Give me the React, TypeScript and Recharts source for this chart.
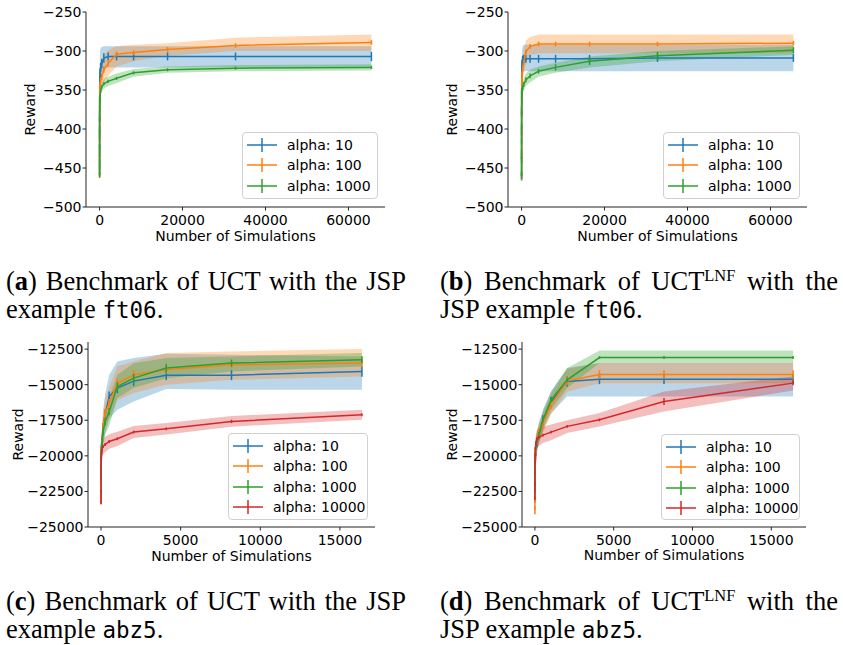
import React from "react";
import { ComposedChart, Area, Line, ErrorBar, XAxis, YAxis, Label } from "recharts";

// x positions: powers of two
const xFt06 = [1, 2, 4, 8, 16, 32, 64, 128, 256, 512, 1024, 2048, 4096, 8192, 16384, 32768, 65536];
const xAbz5 = [1, 2, 4, 8, 16, 32, 64, 128, 256, 512, 1024, 2048, 4096, 8192, 16384];

const legendLabels = ["alpha: 10", "alpha: 100", "alpha: 1000", "alpha: 10000"];
const seriesColors = ["#1f77b4", "#ff7f0e", "#2ca02c", "#d62728"];

const ftTicksX = [0, 20000, 40000, 60000];
const ftTicksY = [-500, -450, -400, -350, -300, -250];
const abzTicksX = [0, 5000, 10000, 15000];
const abzTicksY = [-25000, -22500, -20000, -17500, -15000, -12500];

// (a) UCT, ft06
const uctFtMean10 = [-452, -428, -404, -384, -366, -350, -338, -328, -321, -316, -309, -307, -307, -307, -307, -307, -307];
const uctFtErr10 = [8, 8, 8, 7, 7, 7, 6, 6, 6, 6, 6, 5, 5, 5, 5, 5, 6];
const uctFtLo10 = [-468, -448, -428, -410, -395, -380, -366, -352, -340, -330, -322, -321, -321, -321, -321, -321, -321];
const uctFtHi10 = [-436, -408, -380, -358, -337, -320, -308, -300, -296, -295, -294, -294, -294, -294, -294, -294, -294];
const uctFtMean100 = [-458, -436, -412, -392, -375, -362, -352, -344, -338, -333, -324, -316, -304, -302, -298, -293, -289];
const uctFtErr100 = [5, 5, 5, 5, 4, 4, 4, 4, 4, 4, 4, 4, 3, 3, 3, 3, 3];
const uctFtLo100 = [-470, -450, -428, -410, -394, -380, -370, -362, -355, -348, -340, -332, -320, -313, -306, -300, -300];
const uctFtHi100 = [-446, -422, -396, -374, -356, -344, -334, -326, -321, -318, -307, -299, -294, -292, -290, -283, -279];
const uctFtMean1000 = [-459, -442, -422, -403, -387, -374, -364, -357, -351, -346, -342, -339, -335, -328, -324, -322, -321];
const uctFtErr1000 = [3, 3, 3, 3, 3, 3, 3, 3, 2, 2, 2, 2, 2, 2, 2, 2, 2];
const uctFtLo1000 = [-466, -449, -429, -410, -394, -381, -371, -363, -357, -352, -348, -345, -341, -333, -328, -326, -325];
const uctFtHi1000 = [-452, -435, -415, -396, -380, -367, -357, -351, -345, -340, -336, -333, -329, -323, -320, -318, -317];

// (b) UCT-LNF, ft06
const lnfFtMean10 = [-460, -432, -402, -376, -355, -338, -325, -316, -311, -310, -310, -310, -310, -310, -310, -309, -309];
const lnfFtErr10 = [6, 6, 6, 6, 6, 6, 5, 5, 5, 5, 5, 5, 5, 5, 5, 5, 5];
const lnfFtLo10 = [-476, -452, -424, -398, -376, -358, -344, -334, -328, -326, -326, -326, -326, -326, -326, -326, -326];
const lnfFtHi10 = [-444, -412, -380, -354, -334, -318, -306, -298, -294, -292, -292, -292, -292, -292, -292, -292, -292];
const lnfFtMean100 = [-461, -434, -406, -382, -363, -349, -339, -331, -323, -315, -301, -294, -291, -291, -291, -291, -290];
const lnfFtErr100 = [4, 4, 4, 4, 4, 4, 4, 4, 3, 3, 3, 3, 3, 3, 3, 3, 3];
const lnfFtLo100 = [-473, -448, -420, -397, -378, -364, -354, -346, -338, -330, -315, -305, -303, -303, -303, -303, -303];
const lnfFtHi100 = [-449, -420, -392, -367, -348, -334, -324, -316, -308, -300, -287, -282, -279, -279, -279, -279, -279];
const lnfFtMean1000 = [-460, -440, -416, -396, -379, -366, -357, -351, -347, -343, -337, -332, -326, -321, -313, -306, -299];
const lnfFtErr1000 = [4, 4, 4, 4, 4, 4, 4, 4, 3, 3, 3, 3, 3, 4, 5, 5, 4];
const lnfFtLo1000 = [-468, -448, -424, -404, -387, -374, -365, -359, -355, -351, -345, -340, -333, -328, -321, -313, -305];
const lnfFtHi1000 = [-452, -432, -408, -388, -371, -358, -349, -343, -339, -335, -329, -324, -320, -315, -307, -300, -294];

// (c) UCT, abz5
const uctAbzMean10 = [-23000, -22000, -21000, -20300, -19900, -19400, -18900, -18050, -17100, -15830, -15240, -14750, -14330, -14330, -14070];
const uctAbzErr10 = [300, 300, 300, 300, 300, 300, 300, 350, 350, 350, 350, 350, 350, 350, 370];
const uctAbzLo10 = [-23600, -22700, -21800, -21100, -20700, -20300, -19900, -19300, -18500, -17400, -16760, -16180, -15300, -15350, -15360];
const uctAbzHi10 = [-22400, -21300, -20200, -19500, -19100, -18500, -17900, -16800, -15700, -14300, -13370, -13130, -12830, -12900, -13020];
const uctAbzMean100 = [-23100, -22200, -21300, -20500, -20000, -19500, -18900, -18000, -17000, -16300, -14900, -14300, -13950, -13600, -13480];
const uctAbzErr100 = [300, 300, 300, 300, 300, 300, 300, 300, 300, 300, 350, 350, 250, 250, 300];
const uctAbzLo100 = [-23700, -22900, -22100, -21300, -20800, -20300, -19800, -19000, -18000, -17400, -16100, -15590, -15000, -14660, -14420];
const uctAbzHi100 = [-22500, -21500, -20500, -19700, -19200, -18700, -18000, -17000, -16000, -15200, -13700, -13370, -12780, -12670, -12500];
const uctAbzMean1000 = [-21500, -21000, -20600, -20200, -19800, -19400, -19000, -18300, -17600, -16880, -15130, -14540, -13830, -13480, -13250];
const uctAbzErr1000 = [250, 250, 250, 250, 250, 250, 250, 250, 250, 250, 300, 300, 300, 250, 250];
const uctAbzLo1000 = [-22200, -21700, -21300, -20900, -20500, -20100, -19700, -19100, -18500, -17900, -15940, -15240, -14540, -14070, -13720];
const uctAbzHi1000 = [-20800, -20300, -19900, -19500, -19100, -18700, -18300, -17500, -16700, -15900, -14300, -13500, -13130, -13015, -12780];
const uctAbzMean10000 = [-23300, -22500, -21500, -20800, -20200, -19800, -19500, -19350, -19200, -18990, -18800, -18330, -18100, -17580, -17110];
const uctAbzErr10000 = [100, 100, 100, 100, 100, 100, 100, 100, 100, 100, 100, 100, 100, 120, 100];
const uctAbzLo10000 = [-24000, -23200, -22200, -21500, -20900, -20400, -20100, -19900, -19750, -19500, -19300, -18750, -18500, -17950, -17460];
const uctAbzHi10000 = [-22600, -21800, -20800, -20100, -19500, -19200, -18900, -18800, -18650, -18480, -18300, -17900, -17700, -17200, -16760];

// (d) UCT-LNF, abz5
const lnfAbzMean10 = [-23000, -22300, -21600, -21000, -20500, -20100, -19700, -19100, -18400, -17500, -16200, -14780, -14610, -14610, -14610];
const lnfAbzErr10 = [300, 300, 300, 300, 300, 300, 300, 300, 300, 350, 350, 350, 350, 350, 350];
const lnfAbzLo10 = [-23600, -23000, -22300, -21700, -21200, -20800, -20400, -19800, -19100, -18200, -17000, -15830, -15830, -15830, -15830];
const lnfAbzHi10 = [-22400, -21600, -20900, -20300, -19800, -19400, -19000, -18400, -17700, -16800, -15480, -13830, -13480, -13480, -13480];
const lnfAbzMean100 = [-23800, -22800, -21900, -21200, -20600, -20100, -19500, -18900, -18300, -17700, -16410, -14730, -14280, -14280, -14280];
const lnfAbzErr100 = [300, 300, 300, 300, 300, 300, 300, 300, 300, 300, 300, 300, 300, 300, 300];
const lnfAbzLo100 = [-24400, -23500, -22600, -21900, -21300, -20800, -20200, -19600, -19000, -18400, -17100, -15500, -14890, -14890, -14890];
const lnfAbzHi100 = [-23200, -22100, -21200, -20500, -19900, -19400, -18800, -18200, -17600, -17000, -15700, -13900, -13480, -13480, -13480];
const lnfAbzMean1000 = [-22500, -21800, -21000, -20400, -19900, -19500, -19300, -19000, -18500, -17470, -16060, -14660, -13090, -13090, -13090];
const lnfAbzErr1000 = [150, 150, 150, 150, 150, 150, 150, 150, 150, 150, 150, 150, 100, 100, 100];
const lnfAbzLo1000 = [-23100, -22400, -21600, -21000, -20500, -20100, -19900, -19600, -19100, -18100, -16760, -15240, -13480, -13480, -13480];
const lnfAbzHi1000 = [-21900, -21200, -20400, -19800, -19300, -18900, -18700, -18400, -17900, -16800, -15480, -13830, -12600, -12600, -12600];
const lnfAbzMean10000 = [-23000, -22000, -21200, -20500, -20000, -19500, -19100, -18800, -18700, -18540, -18330, -17930, -17470, -16180, -14890];
const lnfAbzErr10000 = [100, 100, 100, 100, 100, 100, 100, 100, 100, 100, 100, 100, 100, 250, 150];
const lnfAbzLo10000 = [-23600, -22600, -21800, -21100, -20600, -20100, -19700, -19400, -19300, -19100, -18900, -18400, -17930, -16880, -15400];
const lnfAbzHi10000 = [-22400, -21400, -20600, -19900, -19400, -18900, -18500, -18200, -18100, -17980, -17800, -17500, -16990, -15480, -14420];

const FONT = "'DejaVu Sans', sans-serif";
const SERIF = "'Liberation Serif', 'Times New Roman', serif";
const MONO = "'DejaVu Sans Mono', monospace";

type Series = { mean: number[]; err: number[]; lo: number[]; hi: number[] };

function buildRows(x: number[], series: Series[]) {
    return x.map((xv, i) => {
        const row: Record<string, number> = { x: xv };
        series.forEach((s, k) => {
            row[`m${k}`] = s.mean[i];
            row[`e${k}`] = s.err[i];
            row[`lo${k}`] = s.lo[i];
            row[`hi${k}`] = s.hi[i];
        });
        return row;
    });
}

const minus = (v: number) => String(v).replace("-", "\u2212");

interface PanelProps {
    left: number;
    top: number;
    width: number;
    height: number;
    yAxisWidth: number;
    marginRight: number;
    rows: Record<string, number>[];
    count: number;
    xDomain: [number, number];
    xTicks: number[];
    yDomain: [number, number];
    yTicks: number[];
    yLabelX: number;
    xLabelY: number;
    legend: { left: number; top: number; width: number; height: number };
}

const Panel: React.FC<PanelProps> = (p) => {
    const plotTop = 12;
    const plotBottom = p.height - 43;
    const plotLeft = p.yAxisWidth;
    const plotRight = p.width - p.marginRight;
    const idx = Array.from({ length: p.count }, (_, k) => k);

    return (
        <div style={{ position: "absolute", left: p.left, top: p.top, width: p.width, height: p.height }}>
            <ComposedChart
                width={p.width}
                height={p.height}
                data={p.rows}
                margin={{ top: plotTop, right: p.marginRight, bottom: 0, left: 0 }}
            >
                <XAxis
                    dataKey="x"
                    type="number"
                    domain={p.xDomain}
                    ticks={p.xTicks}
                    allowDataOverflow
                    height={43}
                    tickSize={3.5}
                    tickMargin={5}
                    stroke="#222"
                    tick={{ fill: "#000", fontSize: 14, fontFamily: FONT }}
                    tickFormatter={minus}
                >
                    <Label
                        content={() => (
                            <text
                                x={(plotLeft + plotRight) / 2}
                                y={p.xLabelY}
                                textAnchor="middle"
                                dominantBaseline="central"
                                fontSize={14}
                                fontFamily={FONT}
                                fill="#000"
                            >
                                Number of Simulations
                            </text>
                        )}
                    />
                </XAxis>
                <XAxis
                    xAxisId="top"
                    orientation="top"
                    type="number"
                    domain={p.xDomain}
                    allowDataOverflow
                    height={0}
                    tick={false}
                    tickLine={false}
                    stroke="#222"
                />
                <YAxis
                    type="number"
                    domain={p.yDomain}
                    ticks={p.yTicks}
                    allowDataOverflow
                    width={p.yAxisWidth}
                    tickSize={3.5}
                    tickMargin={1}
                    stroke="#222"
                    tick={{ fill: "#000", fontSize: 14, fontFamily: FONT }}
                    tickFormatter={minus}
                >
                    <Label
                        content={() => (
                            <text
                                x={p.yLabelX}
                                y={(plotTop + plotBottom) / 2}
                                transform={`rotate(-90 ${p.yLabelX} ${(plotTop + plotBottom) / 2})`}
                                textAnchor="middle"
                                dominantBaseline="central"
                                fontSize={14}
                                fontFamily={FONT}
                                fill="#000"
                            >
                                Reward
                            </text>
                        )}
                    />
                </YAxis>
                <YAxis
                    yAxisId="right"
                    orientation="right"
                    type="number"
                    domain={p.yDomain}
                    allowDataOverflow
                    width={0}
                    tick={false}
                    tickLine={false}
                    stroke="#222"
                />

                {idx.map((k) => (
                    <Area
                        key={`band${k}`}
                        type="linear"
                        dataKey={(d: Record<string, number>) => [d[`lo${k}`], d[`hi${k}`]]}
                        stroke="none"
                        fill={seriesColors[k]}
                        fillOpacity={0.3}
                        isAnimationActive={false}
                    />
                ))}
                {idx.map((k) => (
                    <Line
                        key={`line${k}`}
                        type="linear"
                        dataKey={`m${k}`}
                        stroke={seriesColors[k]}
                        strokeWidth={1.5}
                        dot={false}
                        isAnimationActive={false}
                    >
                        <ErrorBar dataKey={`e${k}`} width={0} stroke={seriesColors[k]} strokeWidth={1.5} direction="y" />
                    </Line>
                ))}
            </ComposedChart>

            {/* legend box, matplotlib style */}
            <div
                style={{
                    position: "absolute",
                    left: p.legend.left,
                    top: p.legend.top,
                    width: p.legend.width,
                    height: p.legend.height,
                    border: "1px solid #d0d0d0",
                    borderRadius: 4,
                    background: "rgba(255,255,255,0.8)",
                    boxSizing: "border-box",
                    fontFamily: FONT,
                    fontSize: 14,
                }}
            >
                {idx.map((k) => (
                    <div
                        key={k}
                        style={{
                            position: "absolute",
                            left: 0,
                            top: 11.5 + k * 20.5 - 10,
                            height: 20,
                            display: "flex",
                            alignItems: "center",
                            whiteSpace: "nowrap",
                        }}
                    >
                        <svg width={44} height={20} style={{ display: "block" }}>
                            <line x1={4} y1={10} x2={34} y2={10} stroke={seriesColors[k]} strokeWidth={1.5} />
                            <line x1={19} y1={3} x2={19} y2={17} stroke={seriesColors[k]} strokeWidth={1.5} />
                        </svg>
                        <span style={{ color: "#000" }}>{legendLabels[k]}</span>
                    </div>
                ))}
            </div>
        </div>
    );
};

const Caption: React.FC<{ left: number; top: number; width: number; letter: string; lnf: boolean; example: string }> = ({
    left,
    top,
    width,
    letter,
    lnf,
    example,
}) => {
    const lineStyle: React.CSSProperties = {
        height: 28,
        lineHeight: "28px",
        whiteSpace: "nowrap",
    };
    return (
        <div style={{ position: "absolute", left, top, width, fontFamily: SERIF, fontSize: 26.5, color: "#000" }}>
            <div style={{ ...lineStyle, textAlign: "justify", textAlignLast: "justify", whiteSpace: "normal" }}>
                (<b>{letter}</b>) Benchmark of UCT
                {lnf && <sup style={{ fontSize: "0.62em", lineHeight: 0, verticalAlign: "0.52em" }}>LNF</sup>} with the
                {lnf ? "" : " JSP"}
            </div>
            <div style={lineStyle}>
                {lnf ? "JSP example " : "example "}
                <span style={{ fontFamily: MONO, fontSize: "0.85em" }}>{example}</span>.
            </div>
        </div>
    );
};

export default function App() {
    const rowsA = buildRows(xFt06, [
        { mean: uctFtMean10, err: uctFtErr10, lo: uctFtLo10, hi: uctFtHi10 },
        { mean: uctFtMean100, err: uctFtErr100, lo: uctFtLo100, hi: uctFtHi100 },
        { mean: uctFtMean1000, err: uctFtErr1000, lo: uctFtLo1000, hi: uctFtHi1000 },
    ]);
    const rowsB = buildRows(xFt06, [
        { mean: lnfFtMean10, err: lnfFtErr10, lo: lnfFtLo10, hi: lnfFtHi10 },
        { mean: lnfFtMean100, err: lnfFtErr100, lo: lnfFtLo100, hi: lnfFtHi100 },
        { mean: lnfFtMean1000, err: lnfFtErr1000, lo: lnfFtLo1000, hi: lnfFtHi1000 },
    ]);
    const rowsC = buildRows(xAbz5, [
        { mean: uctAbzMean10, err: uctAbzErr10, lo: uctAbzLo10, hi: uctAbzHi10 },
        { mean: uctAbzMean100, err: uctAbzErr100, lo: uctAbzLo100, hi: uctAbzHi100 },
        { mean: uctAbzMean1000, err: uctAbzErr1000, lo: uctAbzLo1000, hi: uctAbzHi1000 },
        { mean: uctAbzMean10000, err: uctAbzErr10000, lo: uctAbzLo10000, hi: uctAbzHi10000 },
    ]);
    const rowsD = buildRows(xAbz5, [
        { mean: lnfAbzMean10, err: lnfAbzErr10, lo: lnfAbzLo10, hi: lnfAbzHi10 },
        { mean: lnfAbzMean100, err: lnfAbzErr100, lo: lnfAbzLo100, hi: lnfAbzHi100 },
        { mean: lnfAbzMean1000, err: lnfAbzErr1000, lo: lnfAbzLo1000, hi: lnfAbzHi1000 },
        { mean: lnfAbzMean10000, err: lnfAbzErr10000, lo: lnfAbzLo10000, hi: lnfAbzHi10000 },
    ]);

    const ftX: [number, number] = [-3277, 68813];
    const ftY: [number, number] = [-500, -250];
    const abzX: [number, number] = [-819, 17203];
    const abzY: [number, number] = [-25000, -12000];

    return (
        <div style={{ position: "absolute", left: 0, top: 0, width: 843, height: 645, background: "#fff", overflow: "hidden" }}>
            <Panel
                left={0} top={0} width={420} height={250} yAxisWidth={86} marginRight={35}
                rows={rowsA} count={3} xDomain={ftX} xTicks={ftTicksX} yDomain={ftY} yTicks={ftTicksY}
                yLabelX={30} xLabelY={236}
                legend={{ left: 242, top: 132, width: 136, height: 67 }}
            />
            <Panel
                left={420} top={0} width={420} height={250} yAxisWidth={88} marginRight={33}
                rows={rowsB} count={3} xDomain={ftX} xTicks={ftTicksX} yDomain={ftY} yTicks={ftTicksY}
                yLabelX={32} xLabelY={236}
                legend={{ left: 243, top: 132, width: 137, height: 67 }}
            />
            <Panel
                left={0} top={330} width={420} height={240} yAxisWidth={88} marginRight={45}
                rows={rowsC} count={4} xDomain={abzX} xTicks={abzTicksX} yDomain={abzY} yTicks={abzTicksY}
                yLabelX={18} xLabelY={226}
                legend={{ left: 228, top: 103, width: 140, height: 87 }}
            />
            <Panel
                left={420} top={330} width={420} height={240} yAxisWidth={102} marginRight={34}
                rows={rowsD} count={4} xDomain={abzX} xTicks={abzTicksX} yDomain={abzY} yTicks={abzTicksY}
                yLabelX={32} xLabelY={225}
                legend={{ left: 241, top: 104, width: 139, height: 86 }}
            />

            <Caption left={6} top={267} width={400} letter="a" lnf={false} example="ft06" />
            <Caption left={440} top={267} width={398} letter="b" lnf example="ft06" />
            <Caption left={6} top={587} width={400} letter="c" lnf={false} example="abz5" />
            <Caption left={440} top={587} width={398} letter="d" lnf example="abz5" />
        </div>
    );
}
